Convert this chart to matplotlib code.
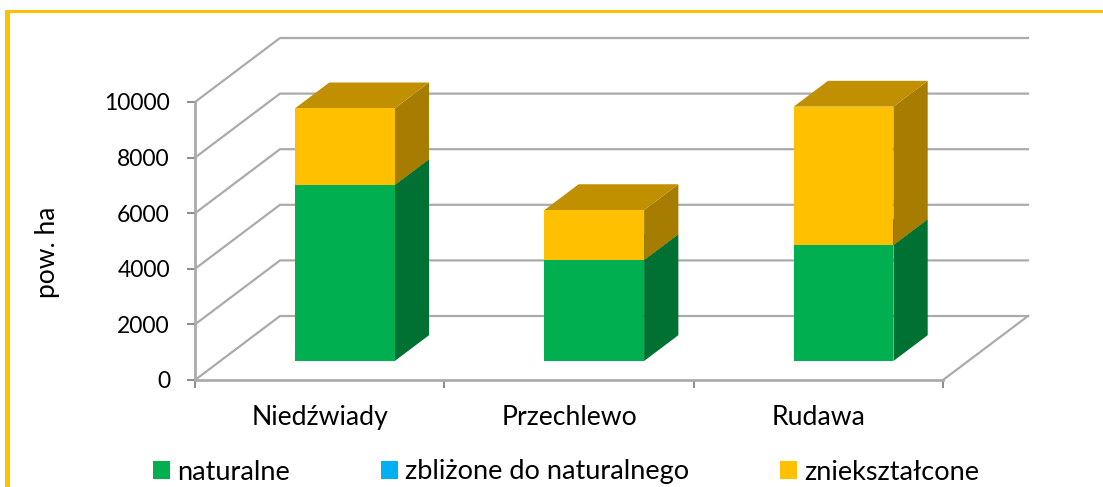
import matplotlib
matplotlib.use("Agg")
import matplotlib.pyplot as plt
from matplotlib.patches import Patch, Rectangle

plt.rcParams['font.family'] = ['Lato', 'DejaVu Sans']

categories = ["Niedźwiady", "Przechlewo", "Rudawa"]
series_names = ["naturalne", "zbliżone do naturalnego", "zniekształcone"]
naturalne = [6330, 3630, 4170]
zblizone = [0, 0, 0]
znieksztalcone = [2760, 1800, 4980]
yticks = [0, 2000, 4000, 6000, 8000, 10000]

front_colors = ["#00B050", "#00B0F0", "#FFC000"]
side_colors = ["#007033", "#0070A0", "#A67D00"]
top_colors = ["#00883E", "#0088BB", "#C09000"]
GRID = "#ABABAB"

# oblique depth of the fake 3d box, in data units
DX = 85 / 249.33
DY = 2302.0
BAR_FRONT = 0.297
BAR_BACK = 0.70
BAR_W = 0.4

W, H = 1103, 487


def project(x, v, d):
    return x + d * DX, v + d * DY


def draw_box(ax, x0, x1, v0, v1, i):
    pts = [project(x0, v0, BAR_FRONT), project(x1, v0, BAR_FRONT),
           project(x1, v1, BAR_FRONT), project(x0, v1, BAR_FRONT)]
    ax.fill(*zip(*pts), color=front_colors[i], lw=0, clip_on=False, zorder=4)
    pts = [project(x1, v0, BAR_FRONT), project(x1, v0, BAR_BACK),
           project(x1, v1, BAR_BACK), project(x1, v1, BAR_FRONT)]
    ax.fill(*zip(*pts), color=side_colors[i], lw=0, clip_on=False, zorder=3)
    pts = [project(x0, v1, BAR_FRONT), project(x1, v1, BAR_FRONT),
           project(x1, v1, BAR_BACK), project(x0, v1, BAR_BACK)]
    ax.fill(*zip(*pts), color=top_colors[i], lw=0, clip_on=False, zorder=3)


fig = plt.figure(figsize=(W / 100, H / 100), dpi=100)
ax = fig.add_axes([195 / W, 1 - 380 / H, 748 / W, 278 / H])
ax.set_xlim(0, 3)
ax.set_ylim(0, 10000)
ax.patch.set_visible(False)

# page border
fig.add_artist(Rectangle((4.5 / W, 0), 5.5 / W, 1 - 10 / H, transform=fig.transFigure, color="#FFC000", lw=0))
fig.add_artist(Rectangle((4.5 / W, 1 - 12.7 / H), 1 - 4.5 / W, 2.7 / H, transform=fig.transFigure, color="#FFC000", lw=0))

# gridlines on the side wall and the back wall
for v in yticks:
    a = project(0, v, 0)
    b = project(0, v, 1)
    c = project(3, v, 1)
    ax.plot([a[0], b[0], c[0]], [a[1], b[1], c[1]], color=GRID, lw=1.6, clip_on=False, zorder=1)
a = project(3, 0, 0)
b = project(3, 0, 1)
ax.plot([a[0], b[0]], [a[1], b[1]], color=GRID, lw=1.6, clip_on=False, zorder=1)

# stacked bars
values = [naturalne, zblizone, znieksztalcone]
for c in range(len(categories)):
    base = 0
    x0 = c + 0.5 - BAR_W / 2
    for s in range(len(values)):
        h = values[s][c]
        if h > 0:
            draw_box(ax, x0, x0 + BAR_W, base, base + h, s)
        base += h

for s in ["top", "right"]:
    ax.spines[s].set_visible(False)
for s in ["left", "bottom"]:
    ax.spines[s].set_color(GRID)
    ax.spines[s].set_linewidth(2)

ax.set_yticks(yticks)
ax.tick_params(axis="y", length=6, width=1.4, color="#8C8C8C", pad=12, labelsize=16.5)
ax.set_xticks([0, 1, 2, 3])
ax.set_xticklabels([])
ax.tick_params(axis="x", which="major", length=6, width=1.4, color="#8C8C8C")
ax.set_xticks([0.5, 1.5, 2.5], minor=True)
ax.set_xticklabels(categories, minor=True)
ax.tick_params(axis="x", which="minor", length=0, pad=18, labelsize=19.2)

fig.text(47 / W, 1 - 252 / H, "pow. ha", rotation=90, ha="center", va="center", fontsize=19)

handles = [Patch(color=front_colors[i], lw=0) for i in range(3)]
fs = 19.5
px = 72 / 100 / fs
fig.legend(handles, series_names, ncol=3, frameon=False, fontsize=fs,
           loc="center left", bbox_to_anchor=(153 / W, 1 - 472 / H),
           borderpad=0, borderaxespad=0, handlelength=17 * px, handleheight=17 * px,
           handletextpad=7 * px, columnspacing=91 * px)

fig.savefig("out.png", dpi=100)
